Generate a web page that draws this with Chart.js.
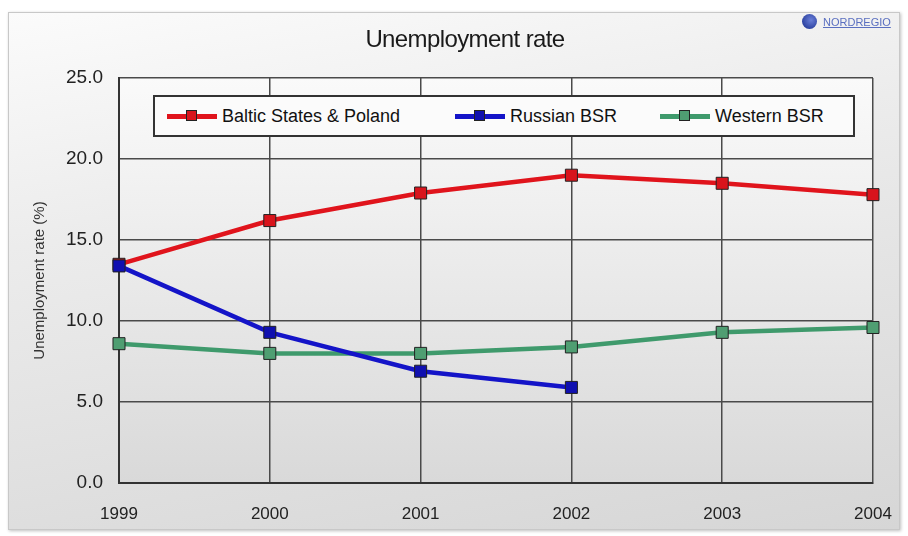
<!DOCTYPE html>
<html lang="en">
<head>
  <meta charset="UTF-8">
  <title>Unemployment rate</title>
  <script src="https://cdn.jsdelivr.net/npm/chart.js"></script>
  <style>
    body {
      margin: 0;
      background: #ffffff;
      font-family: "Liberation Sans", Arial, sans-serif;
    }
    .wrap {
      position: relative;
      width: 908px;
      height: 536px;
      overflow: hidden;
    }
    .frame {
      position: absolute;
      left: 8px;
      top: 12px;
      width: 890px;
      height: 516px;
      border: 1px solid #c8c8c8;
      background: linear-gradient(170deg, #fbfbfb 0%, #ececec 35%, #d6d6d6 100%);
      box-shadow: 1px 1px 3px rgba(0,0,0,0.25);
    }
    canvas {
      position: absolute;
      left: 0;
      top: 0;
    }
    .title {
      position: absolute;
      left: 0;
      width: 930px;
      top: 25px;
      text-align: center;
      font-size: 24px;
      color: #1a1a1a;
      letter-spacing: -0.6px;
    }
    .logo {
      position: absolute;
      left: 802px;
      top: 14px;
      font-size: 11px;
      color: #5a6fc0;
      display: flex;
      align-items: center;
      gap: 6px;
    }
    .logo span.dot {
      width: 15px;
      height: 15px;
      border-radius: 50%;
      background: radial-gradient(circle at 60% 40%, #6a7fd8, #142a8a);
    }
    .logo span.txt {
      text-decoration: underline;
    }
    .legend {
      position: absolute;
      left: 153px;
      top: 95px;
      width: 698px;
      height: 38px;
      border: 2px solid #333;
      background: #fbfbfb;
      display: flex;
      align-items: center;
      font-size: 18px;
      color: #111;
    }
    .legend .item {
      position: absolute;
      display: flex;
      align-items: center;
    }
    .legend .mark {
      position: relative;
      width: 50px;
      height: 5px;
      margin-right: 5px;
    }
    .legend .mark i {
      position: absolute;
      left: 19px;
      top: -4px;
      width: 11px;
      height: 11px;
      border: 1px solid #222;
      box-sizing: border-box;
    }
  </style>
</head>
<body>
  <div class="wrap">
    <div class="frame"></div>
    <canvas id="chart" width="908" height="536"></canvas>
    <div class="title">Unemployment rate</div>
    <div class="logo"><span class="dot"></span><span class="txt">NORDREGIO</span></div>
    <div class="legend" id="legend"></div>
  </div>

  <script>
    const years = ['1999', '2000', '2001', '2002', '2003', '2004'];
    const seriesNames = ['Baltic States & Poland', 'Russian BSR', 'Western BSR'];
    const balticPoland = [13.5, 16.2, 17.9, 19.0, 18.5, 17.8];
    const russianBSR = [13.4, 9.3, 6.9, 5.9, null, null];
    const westernBSR = [8.6, 8.0, 8.0, 8.4, 9.3, 9.6];
    const yTicks = [0, 5, 10, 15, 20, 25];

    const lineColors = ['#e0141c', '#1414c8', '#3f9a6c'];
    const markColors = ['#d8141c', '#1010b0', '#4f9e72'];
    const drawOrder = [2, 1, 3];
    const legendX = [12, 300, 505];

    // legend html built from the series names
    const legendEl = document.getElementById('legend');
    seriesNames.forEach((name, i) => {
      const item = document.createElement('div');
      item.className = 'item';
      item.style.left = legendX[i] + 'px';
      item.innerHTML = '<span class="mark" style="background:' + lineColors[i] + '"><i style="background:' + markColors[i] + '"></i></span>' + name;
      legendEl.appendChild(item);
    });

    const plotBg = {
      id: 'plotBg',
      beforeDraw(chart) {
        const { ctx, chartArea: a } = chart;
        const g = ctx.createLinearGradient(0, a.top, 0, a.bottom);
        g.addColorStop(0, '#fafafa');
        g.addColorStop(1, '#d9d9d9');
        ctx.save();
        ctx.fillStyle = g;
        ctx.fillRect(a.left, a.top, a.right - a.left, a.bottom - a.top);
        ctx.restore();
      }
    };

    function makeSet(i, data) {
      return {
        label: seriesNames[i],
        data: data,
        order: drawOrder[i],
        borderColor: lineColors[i],
        borderWidth: 4.5,
        backgroundColor: markColors[i],
        pointStyle: 'rect',
        pointRadius: 8.5,
        pointBorderColor: '#222',
        pointBorderWidth: 1,
        tension: 0,
        spanGaps: false
      };
    }

    new Chart(document.getElementById('chart'), {
      type: 'line',
      data: {
        labels: years,
        datasets: [
          makeSet(0, balticPoland),
          makeSet(1, russianBSR),
          makeSet(2, westernBSR)
        ]
      },
      options: {
        responsive: false,
        animation: false,
        layout: { padding: { left: 8, right: 35, top: 78, bottom: 8 } },
        plugins: {
          legend: { display: false },
          title: { display: false },
          tooltip: { enabled: false }
        },
        scales: {
          x: {
            offset: false,
            grid: { color: '#4a4a4a', lineWidth: 1.5, drawTicks: false },
            border: { color: '#333', width: 2 },
            ticks: {
              padding: 21,
              color: '#222',
              font: { family: '"Liberation Sans", Arial, sans-serif', size: 17 }
            },
            afterFit(scale) {
              scale.height = 45;
              scale.paddingLeft = 0;
              scale.paddingRight = 0;
            }
          },
          y: {
            min: 0,
            max: 25,
            afterBuildTicks(scale) { scale.ticks = yTicks.map(v => ({ value: v })); },
            grid: { color: '#4a4a4a', lineWidth: 1.5, drawTicks: false },
            border: { color: '#333', width: 2 },
            ticks: {
              padding: 16,
              color: '#222',
              font: { family: '"Liberation Sans", Arial, sans-serif', size: 19 },
              callback: v => Number(v).toFixed(1)
            },
            title: {
              display: true,
              text: 'Unemployment rate (%)',
              color: '#333',
              padding: { top: 23, bottom: 0 },
              font: { family: '"Liberation Sans", Arial, sans-serif', size: 15 }
            },
            afterFit(scale) { scale.width = 111; }
          }
        }
      },
      plugins: [plotBg]
    });
  </script>
</body>
</html>
